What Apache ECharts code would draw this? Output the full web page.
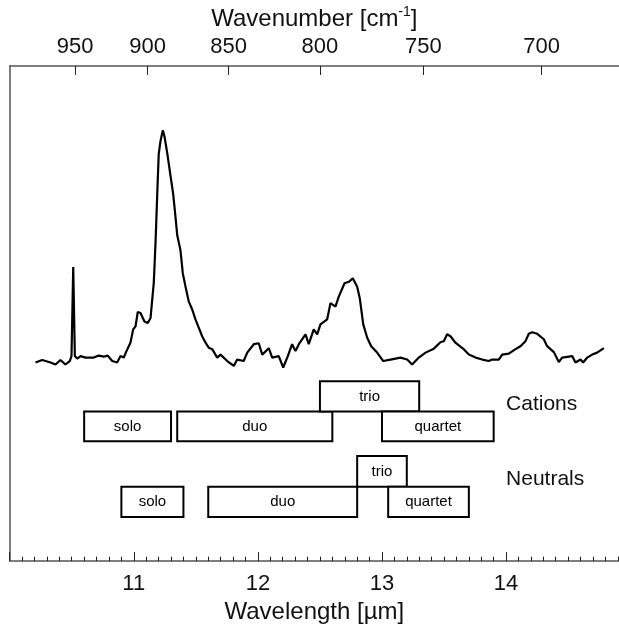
<!DOCTYPE html>
<html>
<head>
<meta charset="utf-8">
<script src="https://cdn.jsdelivr.net/npm/echarts@6/dist/echarts.min.js"></script>
<style>
  html, body { margin: 0; padding: 0; background: #fff; }
  #chart { width: 619px; height: 629px; }
</style>
</head>
<body>
<div id="chart"></div>
<script>
// ---- data ----
const wavelength = [
  10.208, 10.262, 10.329, 10.369, 10.409, 10.449, 10.484, 10.498, 10.512, 10.525,
  10.544, 10.571, 10.611, 10.678, 10.718, 10.758, 10.790, 10.826, 10.866, 10.893,
  10.919, 10.941, 10.973, 10.995, 11.014, 11.032, 11.054, 11.086, 11.113, 11.135,
  11.161, 11.175, 11.189, 11.201, 11.215, 11.234, 11.247, 11.269, 11.296, 11.317,
  11.336, 11.350, 11.376, 11.395, 11.417, 11.443, 11.471, 11.497, 11.524, 11.551,
  11.578, 11.604, 11.632, 11.672, 11.699, 11.753, 11.806, 11.833, 11.886, 11.914,
  11.967, 12.007, 12.035, 12.088, 12.115, 12.168, 12.204, 12.241, 12.276, 12.303,
  12.330, 12.384, 12.410, 12.450, 12.478, 12.504, 12.558, 12.585, 12.625, 12.652,
  12.698, 12.733, 12.765, 12.800, 12.821, 12.849, 12.881, 12.913, 12.961, 13.010,
  13.069, 13.149, 13.203, 13.243, 13.297, 13.351, 13.418, 13.471, 13.498, 13.525,
  13.552, 13.592, 13.632, 13.659, 13.700, 13.754, 13.808, 13.861, 13.888, 13.941,
  13.969, 14.022, 14.076, 14.116, 14.156, 14.183, 14.210, 14.251, 14.304, 14.331,
  14.385, 14.425, 14.452, 14.533, 14.559, 14.600, 14.621, 14.654, 14.694, 14.734,
  14.788
];
const intensity = [
  40.1, 40.6, 40.1, 39.7, 40.6, 39.7, 40.4, 41.4, 59.4, 41.4,
  40.9, 41.4, 41.1, 41.1, 41.5, 41.3, 41.5, 40.4, 40.1, 41.4,
  41.1, 42.4, 44.1, 46.8, 47.4, 50.3, 50.1, 48.4, 48.1, 49.1,
  56.2, 64.2, 74.2, 82.2, 84.8, 87.0, 85.8, 82.5, 77.8, 74.2,
  69.5, 65.8, 62.8, 58.1, 55.4, 52.4, 50.8, 48.8, 47.1, 45.4,
  44.1, 43.1, 42.8, 41.1, 41.7, 40.4, 39.4, 40.7, 40.4, 42.1,
  43.8, 44.0, 41.7, 43.0, 41.1, 41.4, 39.1, 41.4, 43.8, 42.4,
  43.8, 45.8, 43.8, 46.8, 45.8, 47.8, 48.8, 52.1, 51.4, 53.4,
  56.1, 56.4, 57.1, 55.4, 53.1, 47.8, 45.1, 43.4, 42.1, 40.4,
  40.7, 41.1, 40.7, 39.7, 41.1, 42.1, 42.9, 44.2, 44.4, 45.8,
  45.4, 44.1, 43.3, 42.8, 41.7, 41.1, 40.7, 40.4, 40.7, 40.7,
  41.7, 41.9, 42.8, 43.4, 44.4, 45.9, 46.2, 45.9, 44.8, 43.4,
  42.2, 40.2, 41.1, 41.4, 40.1, 40.7, 40.1, 41.1, 41.7, 42.1,
  43.0
];
const bottomTickLabels = [11, 12, 13, 14];
const topTickWavenumbers = [950, 900, 850, 800, 750, 700];

const bandNames  = ['solo', 'duo', 'trio', 'quartet', 'solo', 'duo', 'trio', 'quartet'];
const bandStart  = [10.6, 11.35, 12.5, 13.0, 10.9, 11.6, 12.8, 13.05];
const bandEnd    = [11.3, 12.6, 13.3, 13.9, 11.4, 12.8, 13.2, 13.7];
const bandLow    = [24.2, 24.2, 30.2, 24.2, 8.9, 8.9, 15.0, 8.9];
const bandHigh   = [30.2, 30.2, 36.3, 30.2, 15.0, 15.0, 21.2, 15.0];

const groupNames  = ['Cations', 'Neutrals'];
const groupLabelX = [14.0, 14.0];
const groupLabelY = [31.6, 16.6];

// ---- chart ----
const FONT = '"Liberation Sans", Arial, Helvetica, sans-serif';
const chart = echarts.init(document.getElementById('chart'), null, { renderer: 'canvas' });

const spectrum = wavelength.map((w, i) => [w, intensity[i]]);
const bands = bandNames.map((n, i) => [bandStart[i], bandEnd[i], bandLow[i], bandHigh[i]]);
const groups = groupNames.map((n, i) => [groupLabelX[i], groupLabelY[i]]);
const topTickPos = topTickWavenumbers.map(v => 10000 / v);

const X_MIN = 10, X_MAX = 14.91;
const axisLineStyle = { color: '#555', width: 1.5 };

chart.setOption({
  animation: false,
  backgroundColor: '#fff',
  grid: { left: 9.7, top: 64.3, right: 0, bottom: 65.7, containLabel: false },
  xAxis: [
    {
      type: 'value', position: 'bottom', min: X_MIN, max: X_MAX, interval: 1,
      axisLine: { show: true, onZero: false, lineStyle: axisLineStyle },
      axisTick: { show: true, inside: true, length: 9, lineStyle: { color: '#222', width: 1 } },
      minorTick: { show: true, splitNumber: 10, length: 4.5, lineStyle: { color: '#222', width: 1 } },
      axisLabel: { customValues: bottomTickLabels, margin: 12, fontSize: 22, color: '#111', fontFamily: FONT },
      splitLine: { show: false },
      name: 'Wavelength [\u00b5m]', nameLocation: 'middle', nameGap: 33,
      nameTextStyle: { fontSize: 24, color: '#111', fontFamily: FONT }
    },
    {
      type: 'value', position: 'top', min: X_MIN, max: X_MAX,
      axisLine: { show: true, onZero: false, lineStyle: axisLineStyle },
      axisTick: { show: true, inside: true, length: 9, customValues: topTickPos, lineStyle: { color: '#222', width: 1 } },
      axisLabel: {
        customValues: topTickPos, margin: 8, fontSize: 22, color: '#111', fontFamily: FONT,
        formatter: v => String(Math.round(10000 / v))
      },
      splitLine: { show: false },
      name: '{a|Wavenumber [cm}{s|-1}{a|]}', nameLocation: 'middle', nameGap: 30,
      nameTextStyle: {
        fontFamily: FONT, color: '#111',
        rich: {
          a: { fontSize: 24, fontFamily: FONT, color: '#111', lineHeight: 28 },
          s: { fontSize: 14, fontFamily: FONT, color: '#111', verticalAlign: 'top', lineHeight: 14 }
        }
      }
    }
  ],
  yAxis: {
    type: 'value', min: 0, max: 100,
    axisLine: { show: true, onZero: false, lineStyle: axisLineStyle },
    axisTick: { show: false }, axisLabel: { show: false }, splitLine: { show: false }
  },
  series: [
    {
      type: 'line', xAxisIndex: 0, yAxisIndex: 0, data: spectrum,
      showSymbol: false, symbol: 'none', smooth: false,
      lineStyle: { color: '#000', width: 2.2 }, z: 3
    },
    {
      type: 'custom', xAxisIndex: 0, yAxisIndex: 0, data: bands, z: 4,
      renderItem: function (params, api) {
        const p0 = api.coord([api.value(0), api.value(3)]);
        const p1 = api.coord([api.value(1), api.value(2)]);
        return {
          type: 'group',
          children: [
            { type: 'rect', shape: { x: p0[0], y: p0[1], width: p1[0] - p0[0], height: p1[1] - p0[1] },
              style: { fill: '#fff', stroke: '#000', lineWidth: 2 } },
            { type: 'text', x: (p0[0] + p1[0]) / 2, y: (p0[1] + p1[1]) / 2,
              style: { text: bandNames[params.dataIndex], fill: '#000', font: '15px ' + FONT,
                       align: 'center', verticalAlign: 'middle' } }
          ]
        };
      }
    },
    {
      type: 'custom', xAxisIndex: 0, yAxisIndex: 0, data: groups, z: 4,
      renderItem: function (params, api) {
        const p = api.coord([api.value(0), api.value(1)]);
        return { type: 'text', x: p[0], y: p[1],
          style: { text: groupNames[params.dataIndex], fill: '#111', font: '21px ' + FONT,
                   align: 'left', verticalAlign: 'middle' } };
      }
    }
  ]
});
</script>
</body>
</html>
